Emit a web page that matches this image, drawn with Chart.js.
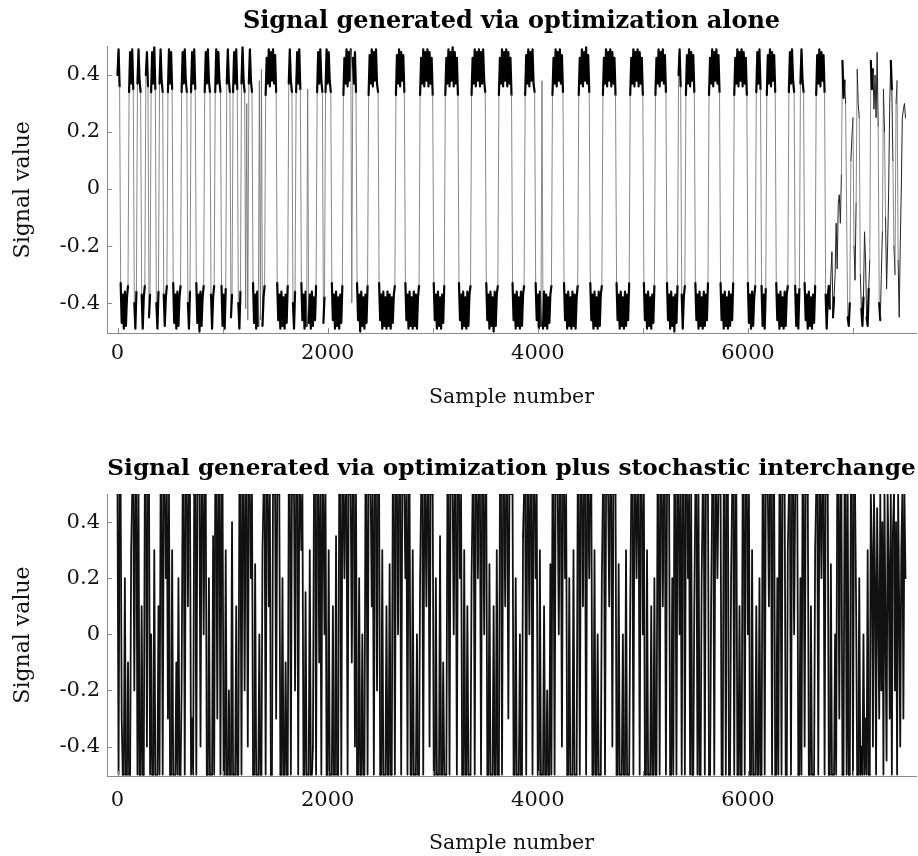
<!DOCTYPE html>
<html>
<head>
<meta charset="utf-8">
<script src="https://cdn.jsdelivr.net/npm/chart.js@4.4.0/dist/chart.umd.min.js"></script>
<style>
  body { margin: 0; background: #fff; }
  .panel { width: 918px; height: 428px; }
</style>
</head>
<body>
<div class="panel"><canvas id="top" width="918" height="428"></canvas></div>
<div class="panel"><canvas id="bottom" width="918" height="428"></canvas></div>
<script>
// samples every 10 samples
var sampleStep = 10;
var xTicks = [0, 1000, 2000, 3000, 4000, 5000, 6000, 7000];
var xLabelTicks = [0, 2000, 4000, 6000];
var yTicks = [-0.4, -0.2, 0, 0.2, 0.4];
var topTitle = 'Signal generated via optimization alone';
var bottomTitle = 'Signal generated via optimization plus stochastic interchange';
var xTitle = 'Sample number';
var yTitle = 'Signal value';

var topSignal = [
  .40,.49,.36,
  -.33,-.47,-.37,-.49,-.36,-.48,-.38,-.34,
  .34,.48,.37,.49,.35,
  -.40,-.49,-.36,
  .37,.49,.38,.34,
  -.37,-.49,-.38,-.34,
  .40,.48,.36,
  -.45,-.37,
  .34,.48,.37,.50,.35,
  -.40,-.49,-.36,
  .37,.49,.38,.34,
  -.37,-.48,-.38,-.34,
  .34,.49,.37,.48,.35,
  -.33,-.47,-.37,-.49,-.36,-.48,-.38,-.34,
  .34,.48,.37,.49,.38,.34,
  -.40,-.49,-.36,
  .34,.48,.37,.49,.35,
  -.33,-.47,-.37,-.50,-.36,-.48,-.38,-.34,
  .34,.48,.37,.49,.38,.34,
  -.37,-.49,-.38,-.34,
  .34,.49,.37,.48,.38,.34,
  -.34,-.48,-.37,-.49,-.35,
  .37,.49,.38,.34,
  -.45,-.37,
  .34,.48,.37,.49,.35,
  -.40,-.49,-.36,
  .37,.50,.38,.34,
  -.42,.30,-.46,
  .37,.49,.38,.34,
  -.33,-.47,-.37,-.49,-.36,-.48,.38,-.46,.42,-.48,-.38,-.34,
  .33,.46,.37,.49,.36,.48,.38,.49,.37,.47,.34,
  -.33,-.46,-.37,-.49,-.36,-.48,-.38,-.49,-.37,-.47,-.34,
  .37,.49,.38,.34,
  -.40,-.49,-.36,
  .34,.48,.37,.49,.35,
  -.33,-.46,-.37,-.49,-.36,-.48,.35,-.47,-.37,-.49,-.36,-.48,-.38,-.46,-.34,
  .34,.48,.37,.49,.38,.34,
  -.47,-.38,
  .34,.49,.37,.48,.38,.34,
  -.33,-.46,-.37,-.49,-.36,-.48,-.38,-.49,-.37,-.47,-.34,
  .33,.46,.37,.49,.36,.48,.38,.49,-.40,.46,.37,.48,.34,
  -.33,-.46,-.37,-.50,-.36,-.48,-.38,-.49,-.37,-.47,-.34,
  .33,.47,.37,.49,.36,.48,.38,.49,.37,.34,
  -.33,-.46,-.37,-.49,-.36,-.48,-.38,-.49,-.36,-.48,-.37,-.49,-.38,-.47,-.37,-.34,
  .33,.47,.37,.49,.36,.48,.38,.47,.34,
  -.33,-.46,-.37,-.49,-.36,-.48,-.38,-.49,-.36,-.48,-.37,-.49,-.38,-.34,
  .33,.46,.37,.49,.36,.48,.38,.49,.36,.48,.37,.46,.33,
  -.33,-.46,-.37,-.49,-.36,-.48,-.38,-.49,-.37,-.47,-.34,
  .33,.46,.37,.49,.36,.48,.38,.50,.36,.48,.37,.46,.33,
  -.33,-.46,-.37,-.49,-.36,-.48,-.38,-.49,-.36,-.48,-.37,-.34,
  .33,.46,.37,.49,.36,.48,.38,.49,.36,.48,.37,.49,.38,.34,
  -.33,-.46,-.37,-.49,-.36,-.48,-.38,-.50,-.36,-.48,-.37,-.34,
  .33,.46,.37,.49,.36,.48,.38,.49,.36,.48,.37,.46,.33,
  -.33,-.46,-.37,-.49,-.36,-.48,-.38,-.49,-.36,-.48,-.37,-.34,
  .33,.47,.37,.49,.36,.48,.38,.49,.37,.34,
  -.33,-.46,-.37,-.49,-.36,-.48,.38,-.49,-.36,-.48,-.37,-.49,-.38,-.47,-.37,-.34,
  .33,.46,.37,.49,.36,.48,.38,.49,.37,.47,.34,
  -.33,-.46,-.37,-.49,-.36,-.48,-.38,-.49,-.36,-.48,-.37,-.49,-.38,-.34,
  .33,.46,.37,.49,.36,.48,.38,.50,.37,.47,.34,
  -.33,-.46,-.37,-.49,-.36,-.48,-.38,-.49,-.36,-.48,-.37,-.34,
  .33,.46,.37,.49,.36,.48,.38,.49,.36,.48,.37,.46,.33,
  -.33,-.46,-.37,-.49,-.36,-.48,-.38,-.49,-.36,-.48,-.37,-.46,-.33,
  .33,.46,.37,.49,.36,.48,.38,.49,.36,.48,.37,.46,.33,
  -.33,-.46,-.37,-.49,-.36,-.48,-.38,-.49,-.37,-.47,-.34,
  .33,.46,.37,.49,.36,.48,.38,.49,.37,.47,.34,
  -.33,-.46,-.37,-.49,-.36,-.48,-.38,-.50,-.37,-.47,-.34,
  .40,.49,.36,
  -.37,-.49,-.38,-.34,
  .33,.47,.37,.49,.36,.48,.38,.47,.34,
  -.33,-.46,-.37,-.49,-.36,-.48,-.38,-.49,-.36,-.48,-.37,-.46,-.33,
  .33,.46,.37,.49,.36,.48,.38,.49,.37,.47,.34,
  -.33,-.46,-.37,-.49,-.36,-.48,-.38,-.49,-.36,-.48,-.37,-.46,-.33,
  .33,.46,.37,.49,.36,.48,.38,.49,.36,.48,.37,.46,.33,
  -.33,-.47,-.37,-.49,-.36,-.48,-.38,-.34,
  .34,.48,.37,.49,.35,
  -.34,-.48,-.37,-.49,-.35,
  .33,.47,.37,.49,.36,.48,.38,.47,.34,
  -.33,-.46,-.37,-.49,-.36,-.48,-.38,-.49,-.36,-.48,-.37,-.34,
  .34,.48,.37,.49,.38,.34,
  -.34,-.48,-.37,-.49,-.35,
  .37,.49,.38,.34,
  -.33,-.46,-.37,-.49,-.36,-.48,-.38,-.49,-.37,-.47,-.34,
  .33,.47,.37,.49,.36,.48,.38,.47,.34,
  -.37,-.49,-.38,-.34,
  -.42,-.30,-.22,-.45,-.38,-.30,-.12,-.28,-.05,-.02,-.12,.05,.45,.32,.38,.30,
  -.10,-.45,-.48,-.40,.10,.18,.25,-.20,-.32,-.05,.42,.30,.25,-.30,-.42,-.48,
  -.38,-.15,-.25,-.45,-.48,-.35,-.25,.45,.35,.42,.28,.40,.25,.48,.22,-.40,
  -.46,-.30,-.15,.35,.20,-.10,-.35,-.20,.00,.30,.45,.35,.10,-.20,-.30,.30,
  .38,-.25,-.45,-.20,.00,.25,.28,.30,.25
];

var bottomSignal = [
  .5,-.5,.5,.5,-.3,
  -.5,-.5,.2,-.5,-.5,-.1,-.5,-.5,.3,
  .5,.5,-.2,.5,.5,-.5,.5,
  -.5,-.5,.1,-.5,-.5,
  .5,.5,-.4,.5,.5,
  -.5,.0,-.5,-.5,.3,-.5,-.5,-.5,.1,-.5,
  .5,.5,-.5,.5,.5,.2,.5,-.3,.5,
  -.5,-.5,.3,-.5,-.5,-.5,-.1,-.5,.2,-.5,-.5,-.2,
  .5,.5,-.5,.5,.5,.1,.5,.5,
  -.5,-.3,-.5,
  .5,.5,-.5,.5,.5,.5,-.4,.5,.5,.0,.5,.5,
  -.5,-.5,.2,-.5,-.5,-.5,.35,-.5,
  .5,.5,-.3,.5,.5,-.5,.5,.5,
  -.5,-.5,.3,-.5,-.5,-.2,-.5,-.5,.4,-.5,-.5,-.5,.1,-.5,-.5,
  .5,.5,-.5,.5,.5,-.2,.5,.5,-.4,.5,.5,.2,.5,
  -.5,-.5,.25,-.5,-.5,-.5,.0,-.5,-.5,.3,
  .5,.5,-.5,.5,.5,.1,.5,-.5,-.5,.5,.5,.5,-.3,.5,.5,.5,
  -.5,-.5,.2,-.5,-.5,-.1,-.5,-.5,
  .5,.5,-.5,.5,.5,.5,-.2,.5,.5,-.5,.5,.5,.3,.5,
  -.5,-.5,.15,-.5,-.5,-.5,.3,-.5,-.5,-.4,
  .5,.5,-.5,.5,.5,-.1,.5,-.5,.5,.5,.0,.5,
  -.5,-.5,.3,-.5,-.5,-.5,.1,-.5,-.5,.35,-.5,-.5,
  .5,.5,-.5,.5,.5,.2,.5,.5,-.5,.5,.5,.5,-.1,.5,.5,-.4,.5,
  -.5,-.5,.2,-.5,-.5,.0,-.5,-.5,
  .5,.5,-.5,.5,.5,.5,.1,.5,-.5,.5,.5,-.2,.5,.5,
  -.5,-.5,.3,-.5,-.5,-.5,.1,-.5,-.5,.25,-.5,-.5,
  .5,.5,-.5,.5,.5,.0,.5,.5,-.5,.5,.5,.5,.2,.5,-.5,.5,.5,
  -.5,-.5,.3,-.5,-.5,-.5,.0,-.5,-.5,.2,
  .5,.5,-.5,.5,.5,.1,.5,.5,-.4,.5,.5,.5,
  -.5,-.5,.2,-.5,-.5,-.5,.35,-.5,-.5,-.1,-.5,-.5,-.5,
  .5,.5,-.5,.5,.5,.5,.0,.5,.5,-.5,.5,.5,.2,.5,
  -.5,-.5,.3,-.5,-.5,.1,-.5,-.5,-.5,.2,
  .5,.5,-.5,.5,.5,.2,.5,.5,-.5,.5,.5,.0,.5,.5,
  -.5,-.5,.25,-.5,-.5,-.5,.1,-.5,-.5,.3,-.5,-.5,
  .5,.5,-.5,.5,.5,.1,.5,.5,-.3,.5,.5,.5,.5,
  -.5,-.5,.2,-.5,-.5,-.5,.0,-.5,-.5,.35,
  .5,.5,-.5,.5,.5,.0,.5,.5,-.5,.5,.5,.2,.5,
  -.5,-.5,.3,-.5,-.5,-.5,.1,-.5,-.5,-.2,-.5,-.5,.25,-.5,
  .5,.5,-.5,.5,.5,.5,.0,.5,.5,-.4,.5,.5,.2,.5,
  -.5,-.5,.2,-.5,-.5,-.5,.3,-.5,-.5,-.5,
  .5,.5,-.5,.5,.5,.1,.5,.5,-.5,.5,.5,.2,.5,.5,
  -.5,-.5,.3,-.5,-.5,.0,-.5,-.5,-.5,.2,
  .5,.5,-.5,.5,.5,.5,.1,.5,.5,-.4,.5,.5,.5,
  -.5,-.5,.25,-.5,-.5,-.5,.0,-.5,-.5,.3,-.5,-.5,-.5,.1,
  .5,.5,-.5,.5,.5,.2,.5,.5,-.5,.5,.5,.0,.5,
  -.5,-.5,.3,-.5,-.5,-.5,.1,-.5,-.5,.2,-.5,-.5,
  .5,.5,-.5,.5,.5,.1,.5,.5,-.5,.5,.5,.5,
  -.5,-.5,.2,-.5,
  .5,.5,-.5,.5,.5,.0,.5,
  -.5,
  .5,.5,-.5,.5,.5,.2,.5,-.5,.5,
  -.5,-.5,.1,
  .5,.5,-.5,.5,
  -.5,-.5,.2,
  .5,.5,-.5,.5,.5,.5,
  -.5,-.5,.1,
  .5,.5,-.5,.5,.5,.2,.5,.5,.5,
  -.5,-.5,
  .5,.5,-.5,.5,.5,
  -.5,-.5,.2,
  .5,.5,-.5,.5,.5,
  -.5,-.5,.1,-.5,-.5,
  .5,.5,-.5,.5,.5,.0,.5,
  -.5,-.5,.3,-.5,-.5,-.5,.1,-.5,-.5,.2,-.5,-.5,
  .5,.5,-.5,.5,.5,.5,.1,.5,.5,-.5,.5,.5,
  -.5,-.5,.2,-.5,
  .5,.5,-.5,.5,.5,.5,
  -.5,-.5,.3,
  .5,.5,-.5,.5,.5,.0,.5,.5,.5,
  -.5,-.5,.2,-.5,
  .5,.5,-.4,.5,.5,.5,
  -.5,-.5,.1,-.5,-.5,-.5,.3,
  .5,.5,-.5,.5,.5,.2,.5,.5,-.5,.5,.5,.5,
  -.5,-.5,.25,-.5,-.5,-.5,.0,-.5,
  .5,.5,-.3,.5,.5,
  -.5,-.5,
  .5,.5,-.5,.5,
  -.5,-.5,
  .5,.5,-.5,.5,.5,.1,
  -.5,-.5,.2,-.5,-.4,-.5,.0,-.5,-.3,-.5,.3,-.5,-.5,
  .5,.3,-.4,.5,.2,-.5,.45,.1,-.3,.5,-.2,.4,-.5,.5,.0,-.45,.5,.25,-.3,.5,
  -.5,.35,.5,-.2,.4,-.5,.5,.1,-.4,.3,.5,-.3,.5,.2
];

Chart.defaults.font.family = "'DejaVu Serif', serif";
Chart.defaults.color = '#111';

// short tick marks pointing into the plot, like the original figure
var innerTicks = {
  id: 'innerTicks',
  afterDraw: function(chart) {
    var ctx = chart.ctx;
    var area = chart.chartArea;
    var xs = chart.scales.x, ys = chart.scales.y;
    ctx.save();
    ctx.strokeStyle = '#8a8a8a';
    ctx.lineWidth = 1;
    ctx.beginPath();
    xTicks.forEach(function(t) {
      var px = Math.round(xs.getPixelForValue(t)) + 0.5;
      ctx.moveTo(px, area.bottom);
      ctx.lineTo(px, area.bottom - 5);
    });
    yTicks.forEach(function(t) {
      var py = Math.round(ys.getPixelForValue(t)) + 0.5;
      ctx.moveTo(area.left, py);
      ctx.lineTo(area.left + 5, py);
    });
    ctx.stroke();
    ctx.restore();
  }
};

function toPoints(values) {
  return values.map(function(v, i) { return { x: i * sampleStep, y: v }; });
}

// 'jump' = a switch between levels, 'mid' = wandering between the levels,
// anything else is the noisy band near +-0.4
function segKind(c) {
  var a = c.p0.parsed.y, b = c.p1.parsed.y;
  if (Math.abs(b - a) > 0.3) return 'jump';
  if (Math.abs(a) < 0.32 || Math.abs(b) < 0.32) return 'mid';
  return 'band';
}

function makeChart(id, title, values, layout) {
  var ctx = document.getElementById(id).getContext('2d');
  return new Chart(ctx, {
    type: 'line',
    data: {
      datasets: [{
        data: toPoints(values),
        borderColor: '#000',
        borderWidth: layout.lineWidth,
        borderJoinStyle: 'round',
        borderCapStyle: 'round',
        pointRadius: 0,
        tension: 0,
        fill: false,
        segment: {
          borderColor: function(c) {
            var k = segKind(c);
            return k === 'jump' ? layout.jumpColor : (k === 'mid' ? layout.midColor : '#000');
          },
          borderWidth: function(c) {
            var k = segKind(c);
            return k === 'jump' ? layout.jumpWidth : (k === 'mid' ? layout.midWidth : layout.lineWidth);
          }
        }
      }]
    },
    options: {
      responsive: false,
      animation: false,
      devicePixelRatio: 1,
      layout: { padding: { left: 0, right: 2, top: 0, bottom: 0 } },
      plugins: {
        legend: { display: false },
        tooltip: { enabled: false },
        title: {
          display: true,
          fullSize: false,
          text: title,
          color: '#000',
          font: { size: layout.titleSize, weight: 'bold' },
          padding: { top: layout.titleTop, bottom: layout.titleBottom },
          align: 'center'
        }
      },
      scales: {
        x: {
          type: 'linear',
          min: -100,
          max: 7600,
          afterBuildTicks: function(s) { s.ticks = xTicks.map(function(v) { return { value: v }; }); },
          afterFit: function(s) { s.height = layout.xHeight; },
          grid: { display: true, drawOnChartArea: false, drawTicks: false },
          border: { display: true, color: '#8a8a8a', width: 1 },
          ticks: {
            autoSkip: false,
            maxRotation: 0,
            padding: layout.xTickPad,
            font: { size: 21 },
            color: '#111',
            callback: function(v) { return xLabelTicks.indexOf(v) >= 0 ? String(v) : ''; }
          },
          title: {
            display: true,
            text: xTitle,
            color: '#111',
            font: { size: 20.5 },
            padding: { top: 0, bottom: layout.xTitleBottom }
          }
        },
        y: {
          min: -0.505,
          max: 0.5,
          afterBuildTicks: function(s) { s.ticks = yTicks.map(function(v) { return { value: v }; }); },
          afterFit: function(s) { s.width = 107; },
          grid: { display: true, drawOnChartArea: false, drawTicks: false },
          border: { display: true, color: '#8a8a8a', width: 1 },
          ticks: {
            padding: 7,
            font: { size: 21 },
            color: '#111',
            callback: function(v) { return v === 0 ? '0' : v.toFixed(1); }
          },
          title: {
            display: true,
            text: yTitle,
            color: '#111',
            font: { size: 22 },
            padding: { top: 10, bottom: 0 }
          }
        }
      }
    },
    plugins: [innerTicks]
  });
}

makeChart('top', topTitle, topSignal, {
  titleSize: 24, titleTop: 7, titleBottom: 10.7, xHeight: 95, xTickPad: 8, xTitleBottom: 18,
  lineWidth: 2.2, jumpWidth: 0.8, jumpColor: '#6a6a6a', midWidth: 1, midColor: '#222'
});
makeChart('bottom', bottomTitle, bottomSignal, {
  titleSize: 23.2, titleTop: 27.5, titleBottom: 10.7, xHeight: 80, xTickPad: 12, xTitleBottom: 0,
  lineWidth: 1.8, jumpWidth: 1.8, jumpColor: '#111', midWidth: 1.8, midColor: '#111'
});
</script>
</body>
</html>
